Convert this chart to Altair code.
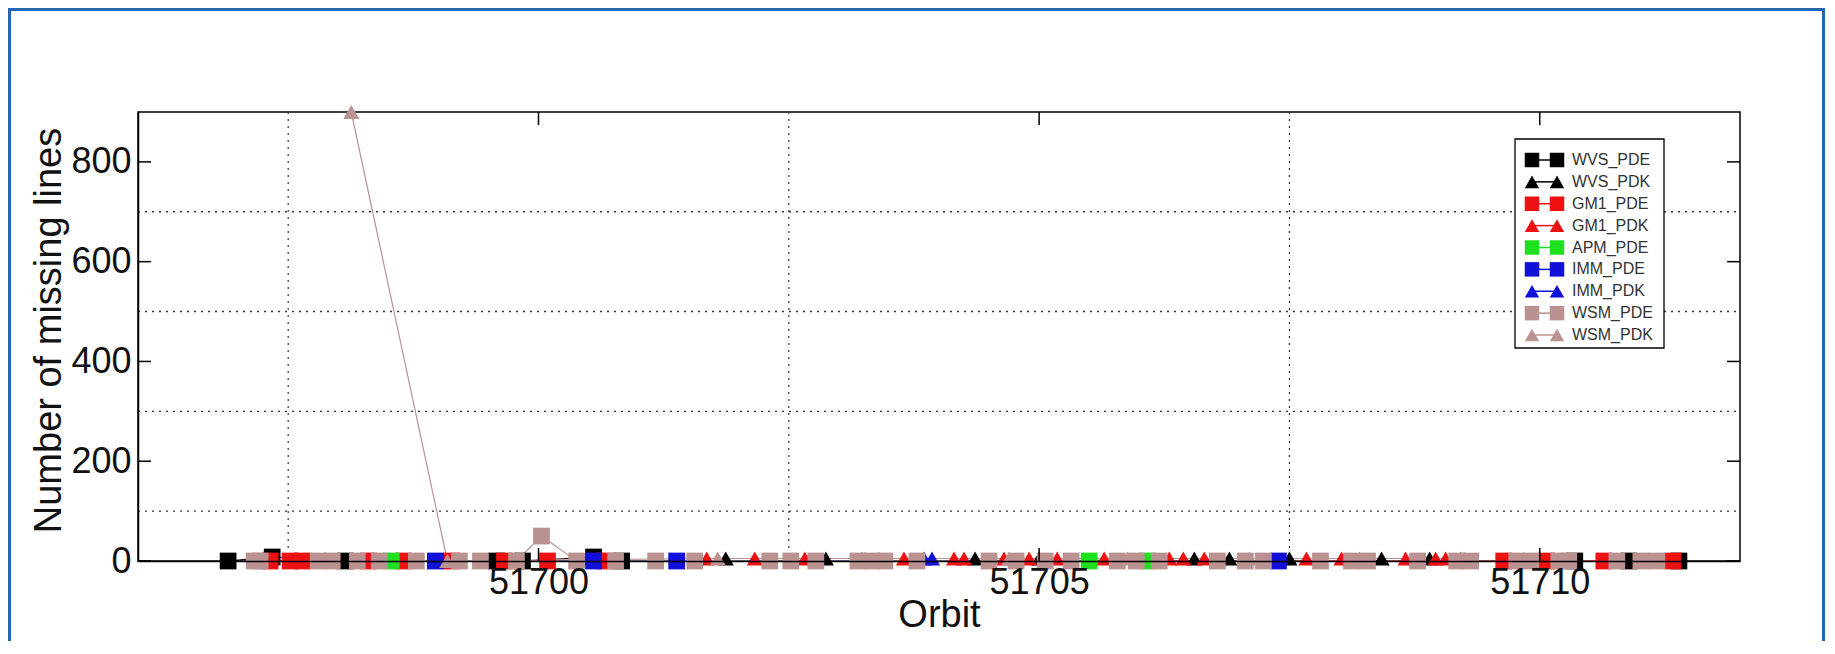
import altair as alt
import pandas as pd

# ---------------- data ----------------
SERIES = ["WVS_PDE", "WVS_PDK", "GM1_PDE", "GM1_PDK", "APM_PDE",
          "IMM_PDE", "IMM_PDK", "WSM_PDE", "WSM_PDK"]
COLORS = ["#000000", "#000000", "#ee1111", "#ee1111", "#1fe01f",
          "#1010d8", "#1010d8", "#ba9292", "#ba9292"]
SHAPES = ["square", "triangle-up", "square", "triangle-up", "square",
          "square", "triangle-up", "square", "triangle-up"]

wvs_pde_x = [51696.90, 51697.34, 51698.07, 51699.58, 51699.84, 51700.55,
             51700.83, 51710.35, 51710.89, 51711.39]
wvs_pde_y = [0, 8, 0, 0, 0, 8, 0, 0, 0, 0]

wvs_pdk_x = [51701.87, 51702.87, 51704.36, 51705.00, 51706.55, 51706.90,
             51707.50, 51708.42, 51708.90]
wvs_pdk_y = [5, 5, 5, 5, 5, 5, 5, 5, 5]

gm1_pde_x = [51697.32, 51697.52, 51697.64, 51698.30, 51698.65, 51699.13,
             51699.66, 51700.09, 51700.66, 51709.64, 51710.07, 51710.64,
             51711.33]
gm1_pde_y = [0, 0, 0, 0, 0, 0, 0, 0, 0, 0, 0, 0, 0]

gm1_pdk_x = [51701.68, 51702.16, 51702.66, 51703.65, 51704.15, 51704.25,
             51704.65, 51704.90, 51705.18, 51705.65, 51706.30, 51706.44,
             51706.65, 51707.67, 51708.02, 51708.66, 51708.96, 51709.06]
gm1_pdk_y = [5, 5, 5, 5, 5, 5, 5, 5, 5, 5, 5, 5, 5, 5, 5, 5, 5, 5]

apm_pde_x = [51698.53, 51705.50, 51706.08]
apm_pde_y = [0, 0, 0]

imm_pde_x = [51698.97, 51700.55, 51701.38, 51707.39]
imm_pde_y = [0, 0, 0, 0]

imm_pdk_x = [51703.85, 51703.93]
imm_pdk_y = [5, 5]

wsm_pde_x = [51697.16, 51697.22, 51697.80, 51697.94, 51698.19, 51698.41,
             51698.78, 51699.21, 51699.42, 51699.78, 51700.03, 51700.38,
             51700.77, 51701.17, 51701.56, 51702.31, 51702.52, 51702.77,
             51703.19, 51703.33, 51703.46, 51703.78, 51704.50, 51704.77,
             51705.06, 51705.32, 51705.78, 51705.97, 51706.20, 51706.78,
             51707.06, 51707.24, 51707.81, 51708.12, 51708.28, 51708.78,
             51709.17, 51709.31, 51709.77, 51709.91, 51710.19, 51710.29,
             51710.77, 51711.01, 51711.17]
wsm_pde_y = [0] * 10 + [50] + [0] * 34

wsm_pdk_x = [51698.13, 51699.09, 51701.79, 51703.23, 51704.70, 51705.88,
             51707.10, 51708.20, 51709.21]
wsm_pdk_y = [900, 0, 5, 5, 5, 5, 5, 5, 5]

X_TICKS = [51700, 51705, 51710]
Y_TICKS = [0, 200, 400, 600, 800]
X_GRID = [51697.5, 51702.5, 51707.5]
Y_GRID = [100, 300, 500, 700]

series_data = {
    "WVS_PDE": (wvs_pde_x, wvs_pde_y),
    "WVS_PDK": (wvs_pdk_x, wvs_pdk_y),
    "GM1_PDE": (gm1_pde_x, gm1_pde_y),
    "GM1_PDK": (gm1_pdk_x, gm1_pdk_y),
    "APM_PDE": (apm_pde_x, apm_pde_y),
    "IMM_PDE": (imm_pde_x, imm_pde_y),
    "IMM_PDK": (imm_pdk_x, imm_pdk_y),
    "WSM_PDE": (wsm_pde_x, wsm_pde_y),
    "WSM_PDK": (wsm_pdk_x, wsm_pdk_y),
}

rows = []
for name in SERIES:
    xs, ys = series_data[name]
    msize = 280 if name.endswith("PDE") else 260
    for xv, yv in zip(xs, ys):
        rows.append({"series": name, "orbit": xv, "lines": yv, "msize": msize})
df = pd.DataFrame(rows)

leg_df = pd.DataFrame({"series": SERIES})
xgrid_df = pd.DataFrame({"orbit": X_GRID})
ygrid_df = pd.DataFrame({"lines": Y_GRID})
xtick_df = pd.DataFrame({"orbit": X_TICKS})
ytick_df = pd.DataFrame({"lines": Y_TICKS})
one_df = pd.DataFrame({"k": [0]})

# ---------------- layout ----------------
W, H = 1602, 449
FONT = "Liberation Sans"

xscale = alt.Scale(domain=[51696, 51712], nice=False, zero=False)
yscale = alt.Scale(domain=[0, 900], nice=False, zero=True)
color_scale = alt.Scale(domain=SERIES, range=COLORS)
shape_scale = alt.Scale(domain=SERIES, range=SHAPES)

x_axis = alt.Axis(values=X_TICKS, format="d", labelFontSize=36, labelFont=FONT,
                  labelColor="#111", ticks=False, labelPadding=4,
                  domain=True, domainColor="black", domainWidth=1.5, grid=False,
                  title="Orbit", titleFontSize=38, titleFont=FONT,
                  titleFontWeight="normal", titleColor="#111",
                  titleBaseline="alphabetic", titleY=65, zindex=1,
                  labelFlush=False, labelOverlap=False)
y_axis = alt.Axis(values=Y_TICKS, labelFontSize=36, labelFont=FONT,
                  labelColor="#111", ticks=False, labelPadding=7,
                  domain=True, domainColor="black", domainWidth=1.5, grid=False,
                  title="Number of missing lines", titleFontSize=38,
                  titleFont=FONT, titleFontWeight="normal", titleColor="#111",
                  titleAngle=270, titleBaseline="alphabetic", titleX=-78,
                  titleY=218, titleAlign="center", zindex=1,
                  labelOverlap=False)

X = alt.X("orbit:Q", scale=xscale, axis=x_axis)
Y = alt.Y("lines:Q", scale=yscale, axis=y_axis)
C = alt.Color("series:N", scale=color_scale, legend=None)
S = alt.Shape("series:N", scale=shape_scale, legend=None)

grid_h = alt.Chart(ygrid_df).mark_rule(color="#333", strokeWidth=1.4,
                                       strokeDash=[2, 5]).encode(
    y=Y, x=alt.value(0), x2=alt.value(W))
grid_v = alt.Chart(xgrid_df).mark_rule(color="#333", strokeWidth=1.2,
                                       strokeDash=[2, 5]).encode(
    x=X, y=alt.value(0), y2=alt.value(H))

lines = alt.Chart(df).mark_line(strokeWidth=1.2).encode(
    x=X, y=Y, color=C, detail="series:N")

points = alt.Chart(df).mark_point(filled=True, opacity=1).encode(
    x=X, y=Y, color=C, shape=S,
    size=alt.Size("msize:Q", scale=None, legend=None))

tick_l = alt.Chart(ytick_df).mark_rule(color="black", strokeWidth=1.5).encode(
    y=Y, x=alt.value(0), x2=alt.value(13))
tick_r = alt.Chart(ytick_df).mark_rule(color="black", strokeWidth=1.5).encode(
    y=Y, x=alt.value(W - 13), x2=alt.value(W))
tick_t = alt.Chart(xtick_df).mark_rule(color="black", strokeWidth=1.5).encode(
    x=X, y=alt.value(0), y2=alt.value(13))
tick_b = alt.Chart(xtick_df).mark_rule(color="black", strokeWidth=1.5).encode(
    x=X, y=alt.value(H - 13), y2=alt.value(H))

main = alt.layer(grid_h, grid_v, lines, points, tick_l, tick_r, tick_t, tick_b)

# ---------------- legend ----------------
LY = alt.Y("series:N", scale=alt.Scale(type="point", domain=SERIES,
                                       range=[48, 223], padding=0), axis=None)
box = alt.Chart(one_df).mark_rect(fill="white", stroke="black",
                                  strokeWidth=1.3).encode(
    x=alt.value(1377), x2=alt.value(1526), y=alt.value(27), y2=alt.value(236))
lrule = alt.Chart(leg_df).mark_rule(strokeWidth=1.5).encode(
    x=alt.value(1394), x2=alt.value(1419), y=LY, color=C)
lpt1 = alt.Chart(leg_df).mark_point(filled=True, opacity=1, size=210).encode(
    x=alt.value(1394), y=LY, color=C, shape=S)
lpt2 = alt.Chart(leg_df).mark_point(filled=True, opacity=1, size=210).encode(
    x=alt.value(1419), y=LY, color=C, shape=S)
ltext = alt.Chart(leg_df).mark_text(align="left", baseline="middle",
                                    fontSize=16, font=FONT,
                                    color="#333").encode(
    x=alt.value(1434), y=LY, text="series:N")
legend = alt.layer(box, lrule, lpt1, lpt2, ltext)

# ---------------- outer frame ----------------
frame = alt.Chart(one_df).mark_rect(fillOpacity=0, stroke="#2464b0",
                                    strokeWidth=3).encode(
    x=alt.value(-128.5), x2=alt.value(1685.5),
    y=alt.value(-102.5), y2=alt.value(600))

chart = alt.layer(main, legend, frame).resolve_scale(
    y="independent"
).properties(
    width=W, height=H,
    padding={"left": 130, "top": 104, "right": 85, "bottom": 80},
    autosize="none", background="white"
).configure_view(stroke="black", strokeWidth=1.5)

chart.save("out.html", embed_options={"renderer": "svg", "actions": False})
